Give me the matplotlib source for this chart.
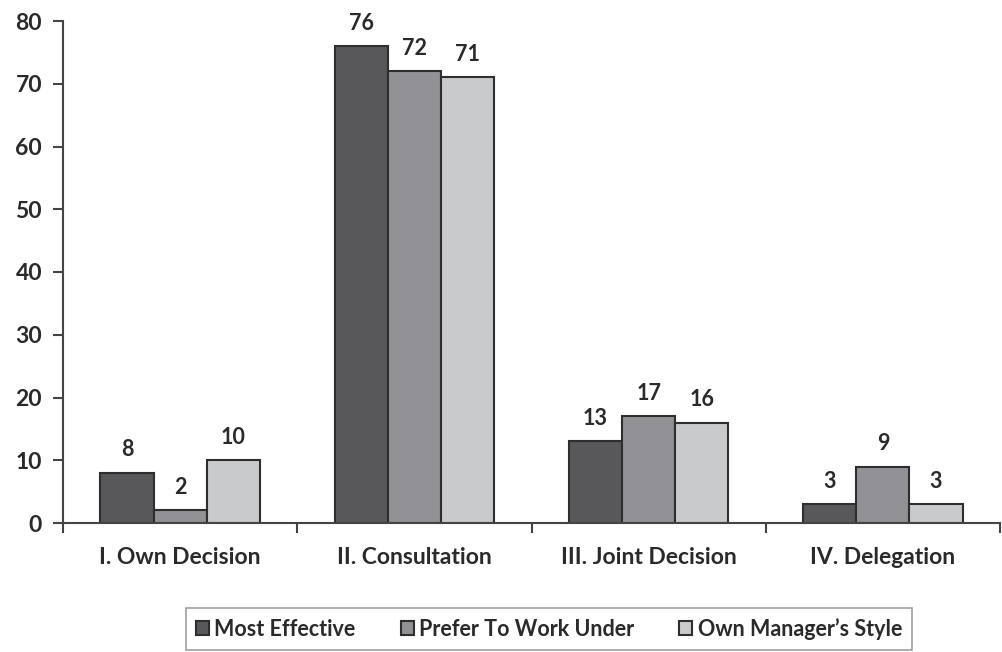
import numpy as np
import matplotlib
matplotlib.use("Agg")
from matplotlib import pyplot as plt

categories = ['I. Own Decision', 'II. Consultation', 'III. Joint Decision', 'IV. Delegation']
series_names = ['Most Effective', 'Prefer To Work Under', "Own Manager\u2019s Style"]
most_effective = [8, 76, 13, 3]
prefer_work_under = [2, 72, 17, 9]
own_manager_style = [10, 71, 16, 3]
colors = ['#58585b', '#929296', '#c9cacc']

plt.rcParams['font.family'] = ['Lato', 'DejaVu Sans']
plt.rcParams['font.weight'] = 'bold'

fig = plt.figure(figsize=(10.02, 6.52), dpi=100)
ax = fig.add_axes([63 / 1002, 129 / 652, 937 / 1002, 502 / 652])

x = np.arange(len(categories))
w = 0.227
series = [most_effective, prefer_work_under, own_manager_style]
for i, (vals, name, c) in enumerate(zip(series, series_names, colors)):
    pos = x + (i - 1) * w
    bars = ax.bar(pos, vals, w, color=c, edgecolor='#2e2e2e', linewidth=1.5, label=name)
    for b, v in zip(bars, vals):
        ax.text(b.get_x() + b.get_width() / 2, v + 2.0, str(v), ha='center', va='bottom',
                fontsize=15.5, fontweight='bold', color='#2a2a2a')

ax.set_xlim(-0.5, len(categories) - 0.5)
ax.set_ylim(0, 80)
ax.set_yticks(range(0, 81, 10))
ax.set_xticks(np.arange(len(categories) + 1) - 0.5)
ax.set_xticklabels([])
ax.set_xticks(x, minor=True)
ax.set_xticklabels(categories, minor=True)
ax.tick_params(axis='x', which='minor', length=0, pad=17, labelsize=16.5, labelcolor='#2a2a2a')
ax.tick_params(axis='x', which='major', length=7, width=1.5, color='#444444', direction='out')
ax.tick_params(axis='y', length=7, width=1.5, color='#444444', labelsize=16.5,
               labelcolor='#2a2a2a', pad=8)
for lab in ax.get_xticklabels(minor=True) + ax.get_yticklabels():
    lab.set_fontweight('bold')

for s in ['top', 'right']:
    ax.spines[s].set_visible(False)
for s in ['left', 'bottom']:
    ax.spines[s].set_linewidth(1.5)
    ax.spines[s].set_color('#444444')

leg = fig.legend(loc='center', bbox_to_anchor=(549 / 1002, 23 / 652), ncol=3, frameon=True,
                 fancybox=False, edgecolor='#888888', fontsize=15.5, handlelength=0.6,
                 handleheight=0.6, handletextpad=0.25, columnspacing=2.1,
                 borderpad=0.45)
leg.get_frame().set_linewidth(1.2)
for t in leg.get_texts():
    t.set_color('#2a2a2a')
    t.set_fontweight('bold')

fig.savefig('out.png', dpi=100)
